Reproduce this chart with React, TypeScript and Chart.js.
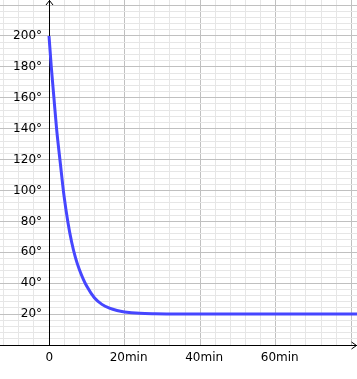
import React, { useEffect, useRef } from 'react';
import { Chart, registerables } from 'chart.js';

Chart.register(...registerables);

// Cooling curve: time (minutes) vs temperature (degrees)
const timeMin = [0, 0.6, 1.3, 2, 3, 4, 5, 6, 7, 8, 9, 10, 12, 14, 16, 18, 20, 24, 28, 32, 40, 50, 60, 70, 82];
const temperature = [200, 180, 160, 140, 117.5, 96, 79.5, 66.5, 56.5, 49, 43, 38, 30.6, 26.3, 23.8, 22.3, 21.4, 20.5, 20.2, 20.1, 20, 20, 20, 20, 20];

// Axis tick labels
const xLabelValues = [0, 20, 40, 60];
const xLabelTexts = ['0  ', '20min', '40min', '60min'];
const yLabelValues = [20, 40, 60, 80, 100, 120, 140, 160, 180, 200];
const yLabelTexts = ['20°', '40°', '60°', '80°', '100°', '120°', '140°', '160°', '180°', '200°'];

// Visible window of the graph
const xRange = [-12.97, 81.5];
const yRange = [0, 223.3];
const minorStep = 4;
const majorStep = 20;
const yLabelAnchorX = -1.85; // y labels end a little left of the vertical axis

const MAJOR = '#c0c0c0';
const MINOR = '#e6e6e6';
const FONT = { family: 'DejaVu Sans', size: 12 };

function labelFor(values: number[], texts: string[], v: number): string {
  for (let i = 0; i < values.length; i++) {
    if (Math.abs(values[i] - v) < 1e-6) return texts[i];
  }
  return '';
}

function gridColor(ctx: any): string {
  const v = ctx.tick ? ctx.tick.value : 0;
  const r = Math.abs(v % majorStep);
  return r < 1e-6 || Math.abs(r - majorStep) < 1e-6 ? MAJOR : MINOR;
}

const axisArrows = {
  id: 'axisArrows',
  afterDraw(chart: any) {
    const { ctx, chartArea, scales } = chart;
    const x0 = Math.round(scales.x.getPixelForValue(0)) + 0.5;
    const y0 = Math.round(scales.y.getPixelForValue(0)) + 0.5;
    const top = chartArea.top;
    const right = chartArea.right;
    ctx.save();
    ctx.strokeStyle = '#000';
    ctx.lineWidth = 1;
    ctx.beginPath();
    ctx.moveTo(x0 - 3.5, top + 5);
    ctx.lineTo(x0, top + 0.5);
    ctx.lineTo(x0 + 3.5, top + 5);
    ctx.moveTo(right - 5.5, y0 - 3.5);
    ctx.lineTo(right - 0.5, y0);
    ctx.lineTo(right - 5.5, y0 + 3.5);
    ctx.stroke();
    ctx.restore();
  },
};

const zeroVerticalPadding = (s: any) => {
  s.paddingTop = 0;
  s.paddingBottom = 0;
};

export default function App() {
  const canvasRef = useRef<HTMLCanvasElement | null>(null);

  useEffect(() => {
    document.body.style.margin = '0';
    const canvas = canvasRef.current;
    if (!canvas) return;
    const points = timeMin.map((t, i) => ({ x: t, y: temperature[i] }));
    const chart = new Chart(canvas, {
      type: 'line',
      data: {
        datasets: [
          {
            data: points,
            borderColor: 'rgb(70,70,255)',
            borderWidth: 3,
            pointRadius: 0,
            fill: false,
            cubicInterpolationMode: 'monotone',
            xAxisID: 'x',
            yAxisID: 'y',
          },
        ],
      },
      options: {
        responsive: false,
        animation: false,
        devicePixelRatio: 1,
        layout: { padding: 0 },
        plugins: {
          legend: { display: false },
          tooltip: { enabled: false },
          title: { display: false },
        },
        scales: {
          x: {
            type: 'linear',
            position: 'bottom',
            min: xRange[0],
            max: xRange[1],
            afterFit: (s: any) => {
              s.height = 34;
              s.paddingLeft = 0;
              s.paddingRight = 0;
            },
            ticks: {
              stepSize: minorStep,
              includeBounds: false,
              autoSkip: false,
              maxRotation: 0,
              minRotation: 0,
              padding: 6,
              labelOffset: 4,
              color: '#000',
              font: FONT,
              callback: (v: any) => labelFor(xLabelValues, xLabelTexts, Number(v)),
            },
            grid: { color: gridColor, lineWidth: 1, drawTicks: false },
            border: { display: true, color: '#000', width: 1 },
          },
          y: {
            type: 'linear',
            position: { x: 0 } as any,
            min: yRange[0],
            max: yRange[1],
            afterFit: zeroVerticalPadding,
            ticks: {
              stepSize: minorStep,
              includeBounds: false,
              autoSkip: false,
              display: false,
            },
            grid: { color: gridColor, lineWidth: 1, drawTicks: false },
            border: { display: true, color: '#000', width: 1 },
          },
          yLabels: {
            type: 'linear',
            position: { x: yLabelAnchorX } as any,
            min: yRange[0],
            max: yRange[1],
            afterFit: zeroVerticalPadding,
            ticks: {
              stepSize: minorStep,
              includeBounds: false,
              autoSkip: false,
              padding: 0,
              color: '#000',
              font: FONT,
              callback: (v: any) => labelFor(yLabelValues, yLabelTexts, Number(v)),
            },
            grid: { display: false, drawTicks: false },
            border: { display: false },
          },
        },
      },
      plugins: [axisArrows],
    } as any);
    return () => chart.destroy();
  }, []);

  return (
    <div style={{ width: 357, height: 379 }}>
      <canvas ref={canvasRef} width={357} height={379} style={{ display: 'block' }} />
    </div>
  );
}
